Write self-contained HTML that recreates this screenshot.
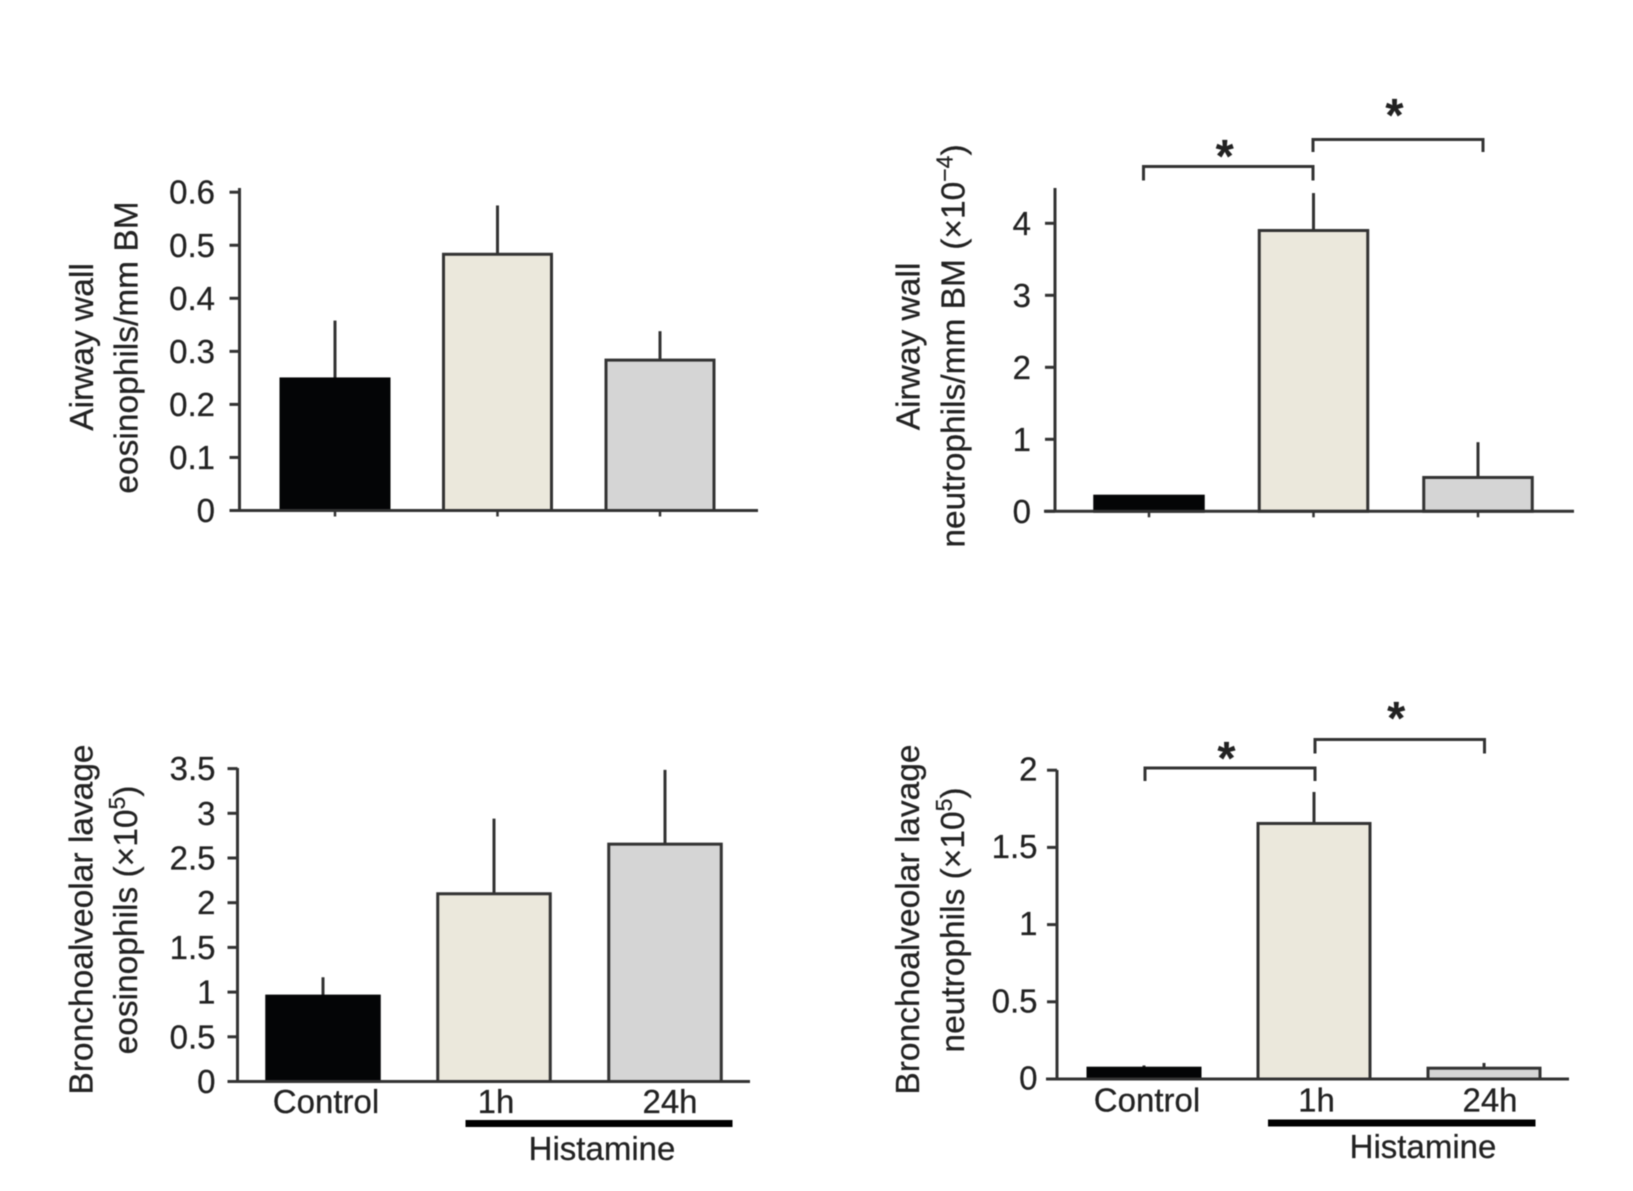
<!DOCTYPE html>
<html lang="en">
<head>
<meta charset="utf-8">
<title>Airway and lavage eosinophils and neutrophils</title>
<style>
  html, body { margin: 0; padding: 0; background: #fff; }
  svg { display: block; font-family: "Liberation Sans", sans-serif; fill: #222; filter: blur(0.5px); }
  text { stroke: #222; stroke-width: 0.25px; }
</style>
</head>
<body>
<svg id="figure" xmlns="http://www.w3.org/2000/svg" width="1633" height="1191" viewBox="0 0 1633 1191"></svg>
<script>
// ---- data ----
const categories = ["Control", "1h", "24h"];
const barFills = ["#040506", "#ebe8dc", "#d5d5d5"];

const wallEosValues = [0.248, 0.483, 0.2835];
const wallEosErrors = [0.358, 0.575, 0.338];
const wallEosTicks = [0, 0.1, 0.2, 0.3, 0.4, 0.5, 0.6];
const wallEosTickLabels = ["0", "0.1", "0.2", "0.3", "0.4", "0.5", "0.6"];

const wallNeuValues = [0.21, 3.9, 0.47];
const wallNeuErrors = [0.21, 4.42, 0.96];
const wallNeuTicks = [0, 1, 2, 3, 4];
const wallNeuTickLabels = ["0", "1", "2", "3", "4"];

const lavageEosValues = [0.955, 2.1, 2.655];
const lavageEosErrors = [1.166, 2.94, 3.486];
const lavageEosTicks = [0, 0.5, 1, 1.5, 2, 2.5, 3, 3.5];
const lavageEosTickLabels = ["0", "0.5", "1", "1.5", "2", "2.5", "3", "3.5"];

const lavageNeuValues = [0.07, 1.655, 0.07];
const lavageNeuErrors = [0.088, 1.859, 0.104];
const lavageNeuTicks = [0, 0.5, 1, 1.5, 2];
const lavageNeuTickLabels = ["0", "0.5", "1", "1.5", "2"];

// ---- panel definitions (layout separate from data) ----
const panels = [
  { id: "airway-eosinophils", values: wallEosValues, errors: wallEosErrors, ticks: wallEosTicks, tickLabels: wallEosTickLabels,
    axisX: 239.5, axisTop: 188, axisLeft: 232.5, axisRight: 758, y0: 510.5, pxPerUnit: 530.5, labelRight: 215, labelDy: 11.5,
    barX0: 335, barStep: 162.5, barW: 108, xTicks: true,
    titles: [ {x: 93, cy: 347, parts: ["Airway wall"]}, {x: 137.5, cy: 347.5, parts: ["eosinophils/mm BM"]} ] },
  { id: "airway-neutrophils", values: wallNeuValues, errors: wallNeuErrors, ticks: wallNeuTicks, tickLabels: wallNeuTickLabels,
    axisX: 1055, axisTop: 188, axisLeft: 1044, axisRight: 1574, y0: 511.3, pxPerUnit: 72, labelRight: 1031, labelDy: 11.5,
    barX0: 1149, barStep: 164.5, barW: 108.5, xTicks: true,
    brackets: [ {l: 1143.5, r: 1313, top: 166.5, bot: 180.5, starY: 148}, {l: 1313, r: 1483, top: 139.5, bot: 152, starY: 107} ],
    titles: [ {x: 919.5, cy: 346.5, parts: ["Airway wall"]}, {x: 964.5, cy: 346, parts: ["neutrophils/mm BM (×10", "−4", ")"]} ] },
  { id: "lavage-eosinophils", values: lavageEosValues, errors: lavageEosErrors, ticks: lavageEosTicks, tickLabels: lavageEosTickLabels,
    axisX: 237.5, axisTop: 768, axisLeft: 228, axisRight: 750, y0: 1081.5, pxPerUnit: 89.4, labelRight: 215.5, labelDy: 11.5,
    barX0: 323, barStep: 171, barW: 112.5, xTicks: false,
    xLabels: {cx: [326, 496, 670], baseline: 1113, lineL: 465.5, lineR: 732.5, lineY: 1123.5, histCx: 602, histBase: 1160},
    titles: [ {x: 92.5, cy: 919.5, parts: ["Bronchoalveolar lavage"]}, {x: 137, cy: 920, parts: ["eosinophils (×10", "5", ")"]} ] },
  { id: "lavage-neutrophils", values: lavageNeuValues, errors: lavageNeuErrors, ticks: lavageNeuTicks, tickLabels: lavageNeuTickLabels,
    axisX: 1057, axisTop: 770, axisLeft: 1046, axisRight: 1569, y0: 1079, pxPerUnit: 154.4, labelRight: 1037.5, labelDy: 10.5,
    barX0: 1144, barStep: 170, barW: 112, xTicks: false,
    brackets: [ {l: 1145, r: 1315, top: 768, bot: 781, starY: 750}, {l: 1315, r: 1484.5, top: 739.5, bot: 753.5, starY: 710} ],
    xLabels: {cx: [1147, 1316.5, 1490], baseline: 1111.5, lineL: 1268, lineR: 1535.5, lineY: 1123, histCx: 1423, histBase: 1158},
    titles: [ {x: 919, cy: 919.5, parts: ["Bronchoalveolar lavage"]}, {x: 964, cy: 920, parts: ["neutrophils (×10", "5", ")"]} ] }
];

// ---- drawing ----
const NS = "http://www.w3.org/2000/svg";
const INK = "#333";
const svg = document.getElementById("figure");

function make(tag, attrs, parent) {
  const el = document.createElementNS(NS, tag);
  for (const k in attrs) el.setAttribute(k, attrs[k]);
  parent.appendChild(el);
  return el;
}
function lineAttrs(x1, y1, x2, y2, w) {
  return { x1: x1, y1: y1, x2: x2, y2: y2, stroke: INK, "stroke-width": w };
}

panels.forEach(function (p) {
  const yScale = function (v) { return p.y0 - v * p.pxPerUnit; };
  const xScale = function (i) { return p.barX0 + i * p.barStep; };

  const g = make("g", {}, svg);
  
  

  // bars and error whiskers
  p.values.forEach(function (v, i) {
    const cx = xScale(i);
    const err = make("line", lineAttrs(cx, yScale(p.errors[i]), cx, yScale(v), 3), g);
    
    

    const bar = make("rect", { x: cx - p.barW / 2, y: yScale(v), width: p.barW, height: p.y0 - yScale(v),
      fill: barFills[i], stroke: i === 0 ? "#040506" : INK, "stroke-width": 3 }, g);
    
    

    if (p.xTicks) {
      const xt = make("line", lineAttrs(cx, p.y0, cx, p.y0 + 6, 2.5), g);
      
      
    }
  });

  // axes
  const yAxis = make("line", lineAttrs(p.axisX, p.axisTop, p.axisX, p.y0 + 1, 3), g);
  
  

  const xAxis = make("line", lineAttrs(p.axisLeft, p.y0, p.axisRight, p.y0, 3), g);
  
  

  // y ticks and labels
  p.ticks.forEach(function (t, i) {
    const y = yScale(t);
    const tick = make("line", lineAttrs(p.axisX - 10, y, p.axisX, y, 3), g);
    
    

    const label = make("text", { x: p.labelRight, y: y + p.labelDy, "text-anchor": "end", "font-size": 33 }, g);
    label.textContent = p.tickLabels[i];
    
    
  });

  // rotated y-axis title lines
  p.titles.forEach(function (t) {
    const title = make("text", { transform: "translate(" + t.x + " " + t.cy + ") rotate(-90)", "text-anchor": "middle", "font-size": 33.5 }, g);
    
    
    const main = make("tspan", {}, title);
    main.textContent = t.parts[0];
    if (t.parts.length > 1) {
      const sup = make("tspan", { dy: -12, "font-size": 23 }, title);
      sup.textContent = t.parts[1];
      const close = make("tspan", { dy: 12 }, title);
      close.textContent = t.parts[2];
    }
  });

  // significance brackets
  (p.brackets || []).forEach(function (b) {
    const path = make("path", { d: "M" + b.l + " " + b.bot + "V" + b.top + "H" + b.r + "V" + b.bot,
      fill: "none", stroke: INK, "stroke-width": 3 }, g);
    
    

    const star = make("text", { x: (b.l + b.r) / 2 - 3.5, y: b.starY + 24, "text-anchor": "middle", "font-size": 46, "font-weight": "bold" }, g);
    star.textContent = "*";
    
    
  });

  // category labels and histamine bar
  if (p.xLabels) {
    const xl = p.xLabels;
    categories.forEach(function (c, i) {
      const cat = make("text", { x: xl.cx[i], y: xl.baseline, "text-anchor": "middle", "font-size": 33 }, g);
      cat.textContent = c;
      
      
    });
    const hb = make("line", { x1: xl.lineL, y1: xl.lineY, x2: xl.lineR, y2: xl.lineY, stroke: "#000", "stroke-width": 7 }, g);
    
    

    const hist = make("text", { x: xl.histCx, y: xl.histBase, "text-anchor": "middle", "font-size": 33 }, g);
    hist.textContent = "Histamine";
    
    
  }
});
</script>
</body>
</html>
